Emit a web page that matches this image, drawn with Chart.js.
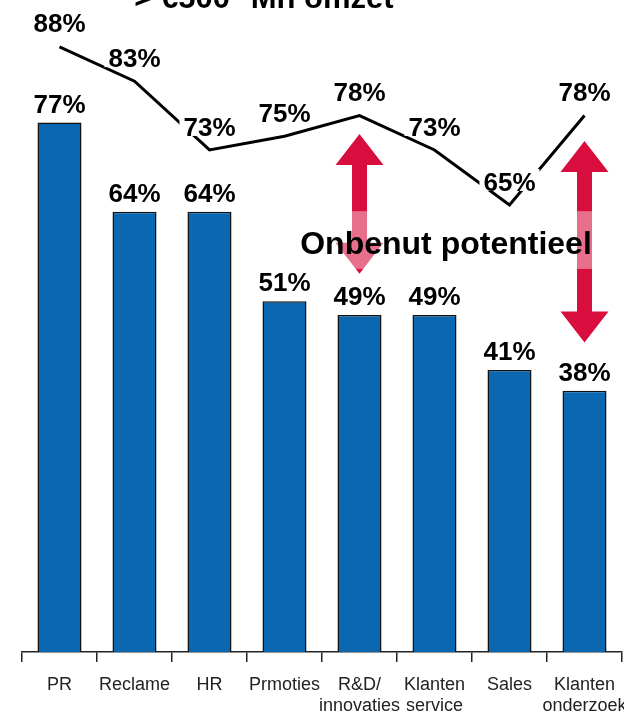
<!DOCTYPE html>
<html>
<head>
<meta charset="utf-8">
<script src="https://cdn.jsdelivr.net/npm/chart.js@4.4.1/dist/chart.umd.min.js"></script>
<style>
  html, body { margin: 0; padding: 0; background: #fff; }
  #wrap { width: 624px; height: 713px; overflow: hidden; position: relative; }
  canvas { display: block; }
</style>
</head>
<body>
<div id="wrap"><canvas id="chart" width="660" height="713"></canvas></div>
<script>
  // Categories and values
  const categories = [
    'PR', 'Reclame', 'HR', 'Prmoties',
    ['R&D/', 'innovaties'], ['Klanten', 'service'], 'Sales', ['Klanten', 'onderzoek']
  ];
  const usageValues = [77, 64, 64, 51, 49, 49, 41, 38];      // bars
  const largeCompanyValues = [88, 83, 73, 75, 78, 73, 65, 78]; // line (> €500 Mn omzet)

  const titleText = '> €500* Mn omzet';
  const gapText = 'Onbenut potentieel';

  // Double arrows: category index, top and bottom in value units
  const arrowIndex = [4, 7];
  const arrowTop = [75.3, 74.3];
  const arrowBottom = [55.0, 45.0];

  const BAR_BLUE = '#0A67B0';
  const RED = '#D80F3E';
  const FONT = '"Liberation Sans", Arial, sans-serif';

  // Value labels, titles and arrows drawn on top of the chart
  const overlayPlugin = {
    id: 'overlay',
    afterDatasetsDraw(chart) {
      const ctx = chart.ctx;
      const x = chart.scales.x;
      const y = chart.scales.y;

      ctx.save();
      ctx.font = 'bold 26px ' + FONT;
      ctx.textAlign = 'center';
      ctx.textBaseline = 'middle';

      // bar labels
      ctx.fillStyle = '#000';
      usageValues.forEach((v, i) => {
        ctx.fillText(v + '%', x.getPixelForValue(i), y.getPixelForValue(v) - 17);
      });

      // line labels on white boxes (they cut through the line)
      largeCompanyValues.forEach((v, i) => {
        const cx = x.getPixelForValue(i);
        const cy = y.getPixelForValue(v) - 21.5;
        const w = ctx.measureText(v + '%').width + 8;
        ctx.fillStyle = '#fff';
        ctx.fillRect(cx - w / 2, cy - 14.5, w, 22);
        ctx.fillStyle = '#000';
        ctx.fillText(v + '%', cx, cy);
      });

      // series title, mostly above the canvas
      ctx.font = 'bold 31px ' + FONT;
      ctx.textBaseline = 'alphabetic';
      ctx.fillText(titleText, 264, 8);

      // red double arrows
      const headLen = 31, headW = 48, shaftW = 15;
      ctx.fillStyle = RED;
      arrowIndex.forEach((idx, k) => {
        const cx = x.getPixelForValue(idx);
        const top = y.getPixelForValue(arrowTop[k]);
        const bot = y.getPixelForValue(arrowBottom[k]);
        ctx.beginPath();
        ctx.moveTo(cx, top);
        ctx.lineTo(cx + headW / 2, top + headLen);
        ctx.lineTo(cx + shaftW / 2, top + headLen);
        ctx.lineTo(cx + shaftW / 2, bot - headLen);
        ctx.lineTo(cx + headW / 2, bot - headLen);
        ctx.lineTo(cx, bot);
        ctx.lineTo(cx - headW / 2, bot - headLen);
        ctx.lineTo(cx - shaftW / 2, bot - headLen);
        ctx.lineTo(cx - shaftW / 2, top + headLen);
        ctx.lineTo(cx - headW / 2, top + headLen);
        ctx.closePath();
        ctx.fill();
      });

      // translucent caption box across both arrows
      const x4 = x.getPixelForValue(arrowIndex[0]);
      const x7 = x.getPixelForValue(arrowIndex[1]);
      const boxTop = y.getPixelForValue(64.1);
      const boxBot = y.getPixelForValue(55.7);
      ctx.fillStyle = 'rgba(255,255,255,0.4)';
      ctx.fillRect(x4 - 62, boxTop, (x7 + 26) - (x4 - 62), boxBot - boxTop);
      ctx.font = 'bold 32px ' + FONT;
      ctx.textBaseline = 'middle';
      ctx.fillStyle = '#000';
      ctx.fillText(gapText, (x4 + x7) / 2 - 26, (boxTop + boxBot) / 2 + 5);

      ctx.restore();
    }
  };

  new Chart(document.getElementById('chart'), {
    type: 'bar',
    data: {
      labels: categories,
      datasets: [
        {
          type: 'line',
          data: largeCompanyValues,
          borderColor: '#000',
          borderWidth: 3,
          pointRadius: 0,
          tension: 0,
          fill: false
        },
        {
          type: 'bar',
          data: usageValues,
          backgroundColor: BAR_BLUE,
          borderColor: '#111',
          borderWidth: 1.5,
          borderSkipped: 'bottom',
          barPercentage: 0.587,
          categoryPercentage: 1
        }
      ]
    },
    options: {
      responsive: false,
      animation: false,
      layout: { padding: { left: 22, right: 38, top: 0, bottom: 0 } },
      plugins: {
        legend: { display: false },
        tooltip: { enabled: false }
      },
      scales: {
        x: {
          afterFit(scale) { scale.height = 61; },
          grid: {
            offset: true,
            drawOnChartArea: false,
            tickLength: 10,
            color: '#222',
            lineWidth: 1.5
          },
          border: { display: true, color: '#222', width: 1.5 },
          ticks: {
            color: '#222',
            autoSkip: false,
            maxRotation: 0,
            padding: 13,
            font: { family: FONT, size: 18, lineHeight: 1.15 }
          }
        },
        y: {
          display: false,
          min: 0,
          max: 94.8
        }
      }
    },
    plugins: [overlayPlugin]
  });
</script>
</body>
</html>
